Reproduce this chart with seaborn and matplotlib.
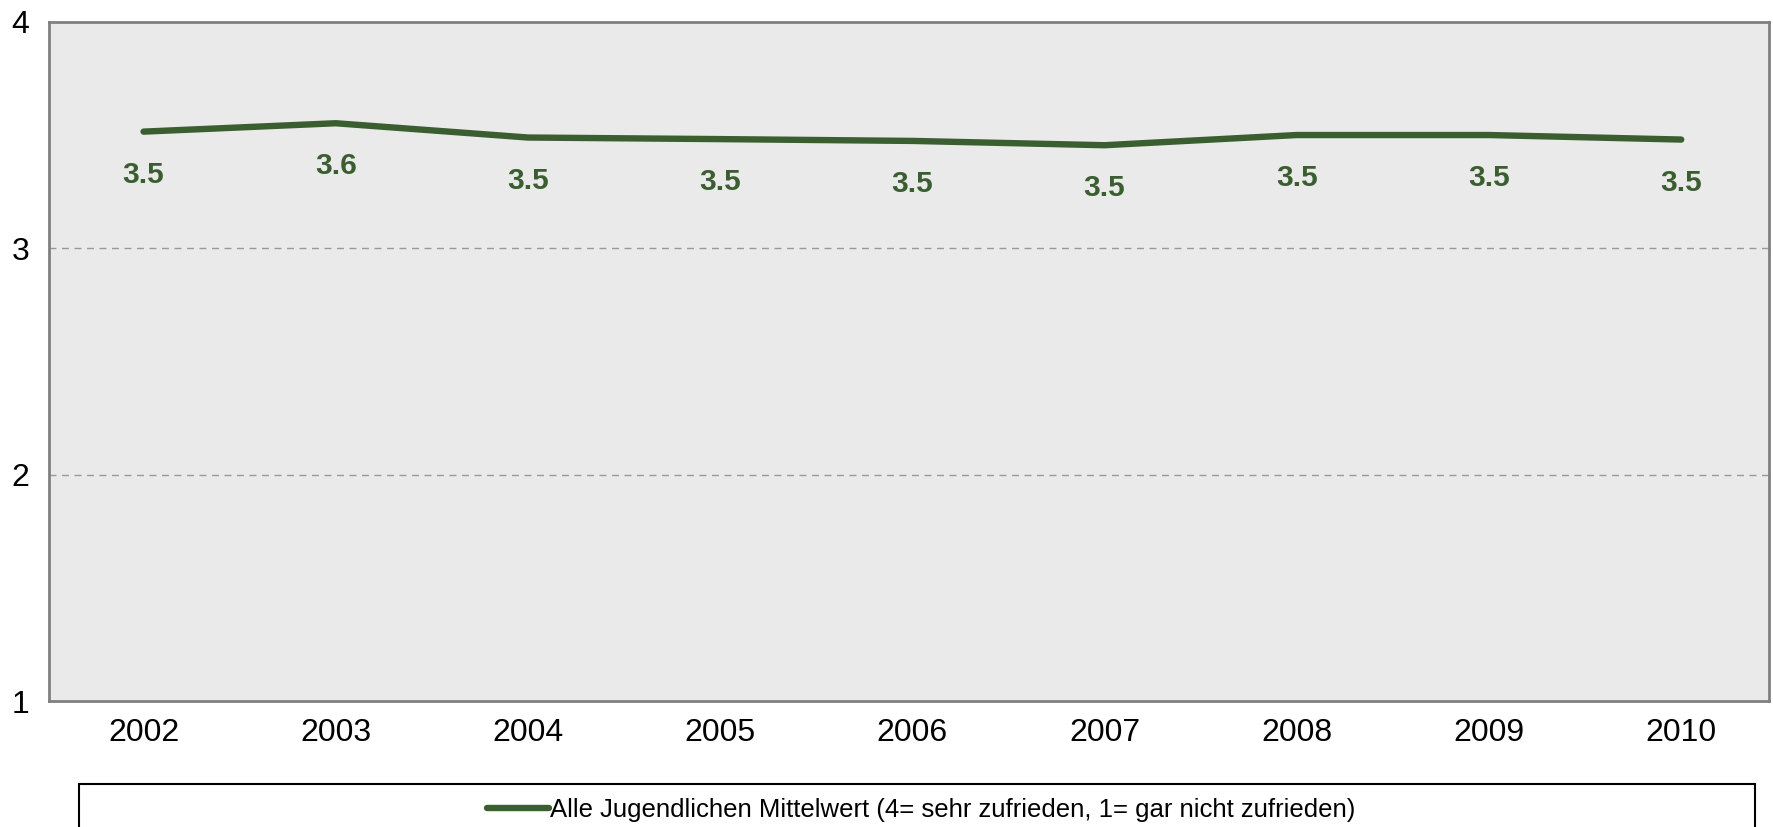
import seaborn as sns
import matplotlib.pyplot as plt
import pandas as pd
from matplotlib.patches import Rectangle

# werte
jahre = ['2002', '2003', '2004', '2005', '2006', '2007', '2008', '2009', '2010']
mittelwert = [3.514, 3.551, 3.488, 3.481, 3.473, 3.454, 3.499, 3.499, 3.479]
serie = 'Alle Jugendlichen Mittelwert (4= sehr zufrieden, 1= gar nicht zufrieden)'
y_ticks = [1, 2, 3, 4]

df = pd.DataFrame({'jahr': jahre, 'wert': mittelwert})

sns.set_style('white')
plt.rcParams['font.family'] = ['Liberation Sans', 'DejaVu Sans']

gruen = '#3b5e31'

fig = plt.figure(figsize=(17.73, 8.27), dpi=100)
ax = fig.add_axes([0.0274, 0.152, 0.9706, 0.822])
ax.set_facecolor('#eaeaea')

sns.lineplot(data=df, x='jahr', y='wert', ax=ax, color=gruen, linewidth=4.6,
             sort=False, label=serie, legend=False)

# datenbeschriftungen unter der linie
for i, v in enumerate(mittelwert):
    ax.annotate(f'{v:.1f}', (i, v), xytext=(0, -31), textcoords='offset points',
                ha='center', va='center', fontsize=21.5, fontweight='bold', color=gruen)

ax.set_ylim(1, 4)
ax.set_xlim(-0.494, len(jahre) - 1 + 0.459)
ax.set_yticks(y_ticks)
ax.set_yticklabels([str(t) for t in y_ticks])
ax.tick_params(axis='x', length=0, labelsize=23, pad=12, labelcolor='black')
ax.tick_params(axis='y', length=0, labelsize=23, pad=14, labelcolor='black')
ax.set_xlabel('')
ax.set_ylabel('')

for y in [2, 3]:
    ax.axhline(y, color='#999999', linestyle=(0, (5, 4)), linewidth=1.0, zorder=0)

for s in ax.spines.values():
    s.set_color('#808080')
    s.set_linewidth(2)

# legende mit eigenem rahmen
fig.add_artist(Rectangle((79 / 1773, -0.05), (1755 - 79) / 1773, 1.05 - 784 / 827,
                         transform=fig.transFigure, fill=False,
                         edgecolor='black', linewidth=1.5))
h, l = ax.get_legend_handles_labels()
fig.legend(h, l, loc='center', bbox_to_anchor=(921 / 1773, 1 - 810 / 827),
           frameon=False, fontsize=18.5, handlelength=2.4, handletextpad=0.05,
           labelcolor='black')

fig.savefig('out.png', dpi=100)
